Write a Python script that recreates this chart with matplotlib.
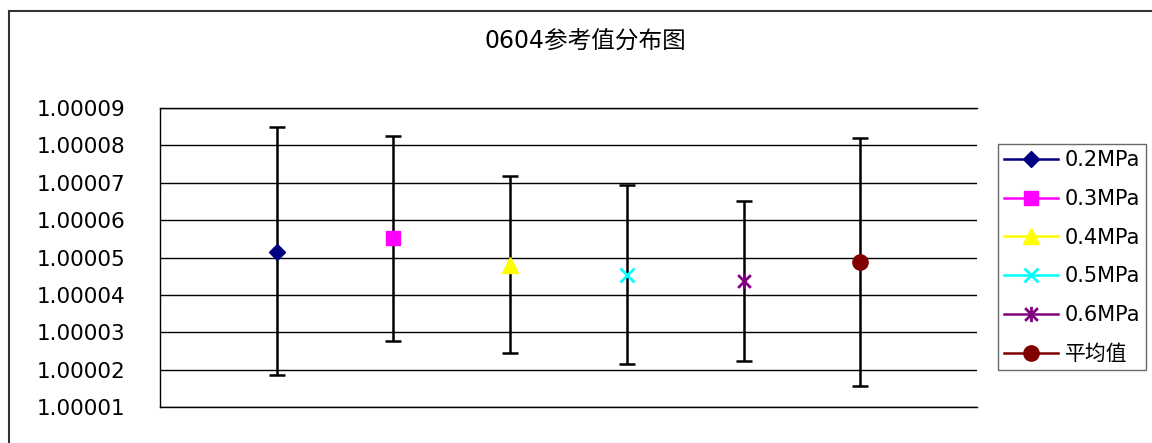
import matplotlib.pyplot as plt
from matplotlib.lines import Line2D
from matplotlib.path import Path

plt.rcParams['font.family'] = ['DejaVu Sans', 'Noto Sans CJK SC']

# data
labels = ['0.2MPa', '0.3MPa', '0.4MPa', '0.5MPa', '0.6MPa', '平均值']
values = [1.0000516, 1.0000551, 1.0000480, 1.0000453, 1.0000436, 1.0000488]
upper = [1.0000849, 1.0000825, 1.0000717, 1.0000693, 1.0000650, 1.0000820]
lower = [1.0000185, 1.0000276, 1.0000244, 1.0000214, 1.0000223, 1.0000155]
yticks = [1.00001, 1.00002, 1.00003, 1.00004, 1.00005, 1.00006, 1.00007, 1.00008, 1.00009]

colors = ['#000080', '#FF00FF', '#FFFF00', '#00FFFF', '#800080', '#800000']

# asterisk marker: an x with a vertical stroke
star = Path([(-1, -1), (1, 1), (-1, 1), (1, -1), (0, -1.2), (0, 1.2)],
            [Path.MOVETO, Path.LINETO, Path.MOVETO, Path.LINETO, Path.MOVETO, Path.LINETO])
markers = ['D', 's', '^', 'x', star, 'o']
sizes = [8, 10.5, 11, 10, 11, 11]

W, H = 1152, 443
fig = plt.figure(figsize=(W / 100, H / 100), dpi=100)
ax = fig.add_axes([160 / W, 1 - 407 / H, 817 / W, 299 / H])

handles = []
for i, lab in enumerate(labels):
    x = i + 1
    ax.errorbar([x], [values[i]],
                yerr=[[values[i] - lower[i]], [upper[i] - values[i]]],
                fmt='none', ecolor='black', elinewidth=1.8, capsize=5.5,
                capthick=1.8, zorder=3)
    mew = 2 if i in (3, 4) else 1
    ax.plot([x], [values[i]], linestyle='none', marker=markers[i], markersize=sizes[i],
            color=colors[i], markeredgecolor=colors[i], markeredgewidth=mew, zorder=4)
    handles.append(Line2D([], [], color=colors[i], linewidth=1.8, marker=markers[i],
                          markersize=sizes[i], markeredgecolor=colors[i],
                          markeredgewidth=mew, label=lab))

ax.set_xlim(0, 7)
ax.set_ylim(1.00001, 1.00009)
ax.set_yticks(yticks)
ax.set_yticklabels([f'{v:.5f}' for v in yticks], fontsize=15.5)
ax.set_xticks([])
ax.tick_params(axis='y', length=0, pad=25)
ax.yaxis.grid(True, color='black', linewidth=1)
ax.set_axisbelow(True)
for s in ['left', 'bottom', 'top']:
    ax.spines[s].set_linewidth(1)
ax.spines['right'].set_visible(False)

leg = ax.legend(handles=handles, loc='upper left', bbox_to_anchor=(998 / W, 1 - 144 / H),
                bbox_transform=fig.transFigure, fontsize=15, frameon=True, fancybox=False,
                handlelength=2.6, handletextpad=0.3, labelspacing=0.9, borderpad=0.3,
                borderaxespad=0)
leg.get_frame().set_edgecolor('#444444')
leg.get_frame().set_linewidth(1)

fig.text(585 / W, 1 - 42 / H, '0604参考值分布图', ha='center', va='center', fontsize=17)

# outer chart border (top and left visible)
fig.add_artist(Line2D([9 / W, 1], [1 - 11 / H, 1 - 11 / H], color='#333333', linewidth=1.5))
fig.add_artist(Line2D([9 / W, 9 / W], [0, 1 - 11 / H], color='#333333', linewidth=1.5))

fig.savefig('out.png', dpi=100)
